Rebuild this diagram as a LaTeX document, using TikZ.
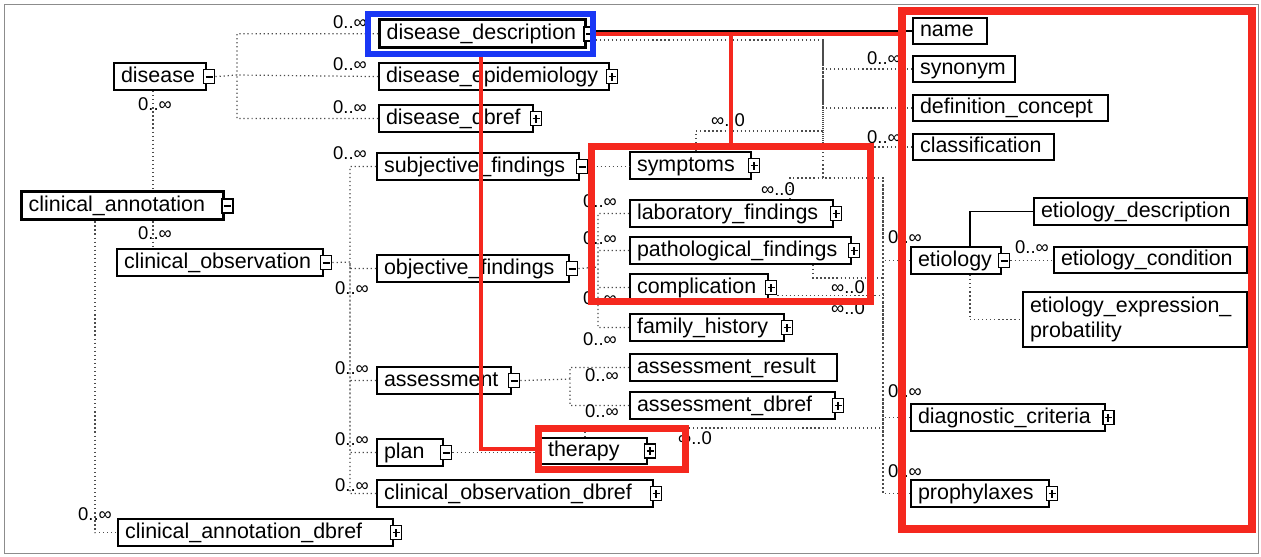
\documentclass[tikz,border=0pt]{standalone}
\usepackage{fontspec}
\setmainfont{Liberation Sans}
\newdimen\pxu \pxu=0.02cm
\definecolor{hlred}{RGB}{245,40,30}
\definecolor{hlblue}{RGB}{25,55,245}
\newcommand{\elemfont}{\fontsize{12.2}{14.2}\selectfont}
\newcommand{\multfont}{\fontsize{10.5}{12}\selectfont}
\tikzset{
  elembase/.style={draw, line width=1.2pt, fill=white, anchor=north west,
                   inner xsep=7\pxu, inner ysep=0pt, align=left, font=\elemfont},
  elem/.style={elembase, minimum height=27\pxu, text height=9pt, text depth=2.6pt},
  rootelem/.style={elem, line width=1.9pt},
  icon/.style={draw, fill=white, line width=1pt, minimum width=11\pxu,
               minimum height=14\pxu, inner sep=0pt},
  minusicon/.style={icon, path picture={\draw[line width=1.1pt]
      ([xshift=2\pxu]path picture bounding box.west) -- ([xshift=-2\pxu]path picture bounding box.east);}},
  plusicon/.style={icon, path picture={\draw[line width=1pt]
      ([xshift=2\pxu]path picture bounding box.west) -- ([xshift=-2\pxu]path picture bounding box.east)
      ([yshift=3\pxu]path picture bounding box.south) -- ([yshift=-3\pxu]path picture bounding box.north);}},
  mult/.style={font=\multfont, inner sep=0pt},
  conn/.style={dash pattern=on .7pt off 1.6pt, line width=.7pt, black!70},
  tree/.style={line width=.7pt, black},
  hlline/.style={draw=hlred, line width=4\pxu},
  hlbox/.style={draw=hlred, line width=7\pxu, anchor=north west, inner sep=0pt},
}
\begin{document}
\begin{tikzpicture}[x=0.02cm, y=-0.02cm]
      \useasboundingbox (0, 0) rectangle (1261, 556);
      \draw[black!45, line width=1\pxu] (4, 4) rectangle (1258, 553);

      \node[elem, text width=78\pxu] (disease) at (113, 62) {disease};
      \node[rootelem, text width=188\pxu, minimum height=28\pxu] (cann) at (20, 190) {clinical\_annotation};
      \node[elem, text width=192\pxu] (cobs) at (116, 248) {clinical\_observation};
      \node[elem, text width=261\pxu] (cadb) at (117, 518) {clinical\_annotation\_dbref};

      \node[rootelem, text width=192\pxu, minimum height=28\pxu] (ddesc) at (378, 18) {disease\_description};
      \node[elem, text width=216\pxu] (depi) at (378, 62) {disease\_epidemiology};
      \node[elem, text width=140\pxu] (ddbref) at (378, 104) {disease\_dbref};
      \node[elem, text width=188\pxu] (subj) at (376, 152) {subjective\_findings};
      \node[elem, text width=178\pxu] (obj) at (376, 254) {objective\_findings};
      \node[elem, text width=120\pxu] (asmt) at (376, 366) {assessment};
      \node[elem, text width=52\pxu] (plan) at (376, 438) {plan};
      \node[elem, text width=262\pxu] (codb) at (376, 479) {clinical\_observation\_dbref};

      \node[elem, text width=107\pxu] (symp) at (629, 151) {symptoms};
      \node[elem, text width=189\pxu] (lab) at (629, 199) {laboratory\_findings};
      \node[elem, text width=207\pxu] (path) at (629, 236) {pathological\_findings};
      \node[elem, text width=124\pxu] (comp) at (629, 273) {complication};
      \node[elem, text width=140\pxu] (fam) at (629, 313) {family\_history};
      \node[elem, text width=193\pxu] (ares) at (629, 353) {assessment\_result};
      \node[elem, text width=191\pxu] (adb) at (629, 391) {assessment\_dbref};
      \node[elem, text width=92\pxu, minimum height=26\pxu] (ther) at (540, 437) {therapy};

      \node[elem, text width=60\pxu, minimum height=26\pxu] (name) at (912, 17) {name};
      \node[elem, text width=88\pxu, minimum height=26\pxu] (syn) at (912, 55) {synonym};
      \node[elem, text width=181\pxu, minimum height=26\pxu] (defc) at (912, 94) {definition\_concept};
      \node[elem, text width=127\pxu, minimum height=26\pxu] (clas) at (912, 133) {classification};
      \node[elem, text width=199\pxu] (etdesc) at (1033, 197) {etiology\_description};
      \node[elem, text width=76\pxu] (etio) at (910, 246) {etiology};
      \node[elem, text width=179\pxu, minimum height=26\pxu] (etcond) at (1053, 246) {etiology\_condition};
      \node[elembase, text width=210\pxu, minimum height=55\pxu] (etexp) at (1022, 291) {etiology\_expression\_\\probatility};
      \node[elem, text width=180\pxu] (diag) at (910, 403) {diagnostic\_criteria};
      \node[elem, text width=124\pxu] (proph) at (910, 479) {prophylaxes};

      \node[minusicon] (disease-i) at ([xshift=2\pxu]disease.east) {};
      \node[minusicon] (cann-i) at ([xshift=2\pxu]cann.east) {};
      \node[minusicon] (cobs-i) at ([xshift=2\pxu]cobs.east) {};
      \node[plusicon] (cadb-i) at ([xshift=2\pxu]cadb.east) {};
      \node[minusicon] (ddesc-i) at ([xshift=2\pxu]ddesc.east) {};
      \node[plusicon] (depi-i) at ([xshift=2\pxu]depi.east) {};
      \node[plusicon] (ddbref-i) at ([xshift=2\pxu]ddbref.east) {};
      \node[minusicon] (subj-i) at ([xshift=2\pxu]subj.east) {};
      \node[minusicon] (obj-i) at ([xshift=2\pxu]obj.east) {};
      \node[minusicon] (asmt-i) at ([xshift=2\pxu]asmt.east) {};
      \node[minusicon] (plan-i) at ([xshift=2\pxu]plan.east) {};
      \node[plusicon] (codb-i) at ([xshift=2\pxu]codb.east) {};
      \node[plusicon] (symp-i) at ([xshift=2\pxu]symp.east) {};
      \node[plusicon] (lab-i) at ([xshift=2\pxu]lab.east) {};
      \node[plusicon] (path-i) at ([xshift=2\pxu]path.east) {};
      \node[plusicon] (comp-i) at ([xshift=2\pxu]comp.east) {};
      \node[plusicon] (fam-i) at ([xshift=2\pxu]fam.east) {};
      \node[plusicon] (adb-i) at ([xshift=2\pxu]adb.east) {};
      \node[plusicon] (ther-i) at ([xshift=2\pxu]ther.east) {};
      \node[minusicon] (etio-i) at ([xshift=2\pxu]etio.east) {};
      \node[plusicon] (diag-i) at ([xshift=2\pxu]diag.east) {};
      \node[plusicon] (proph-i) at ([xshift=2\pxu]proph.east) {};

      \coordinate (dspine) at (237, 75);
      \coordinate (aspine) at (153, 0);
      \coordinate (bspine) at (95, 0);
      \coordinate (ospine) at (350, 262);
      \coordinate (fspine) at (598, 267);
      \coordinate (rspine) at (570, 379);
      \coordinate (ds1) at (823, 40);
      \coordinate (ds2) at (883, 178);
      \coordinate (symtop) at (696, 131);
      \coordinate (labtop) at (790, 178);
      \coordinate (pathbot) at (813, 278);
      \coordinate (thertop) at (585, 428);
      \coordinate (etrunk) at (970, 0);

      \draw[conn] (disease-i.east) -- (dspine)
                  (ddesc.west) -| (dspine)
                  (depi.west) -- (dspine)
                  (ddbref.west) -| (dspine);
      \draw[conn] (disease.south -| aspine) -- (cann.north -| aspine)
                  (cann.south -| aspine) -- (cobs.north -| aspine)
                  (cann.south -| bspine) |- (cadb.west);
      \draw[conn] (cobs-i.east) -- (ospine)
                  (subj.west) -| (ospine)
                  (obj.west) -| (ospine)
                  (asmt.west) -| (ospine)
                  (plan.west) -| (ospine)
                  (codb.west) -| (ospine);
      \draw[conn] (subj-i.east) -- (subj-i.east -| symp.west);
      \draw[conn] (obj-i.east) -- (fspine)
                  (lab.west) -| (fspine)
                  (path.west) -| (fspine)
                  (comp.west) -| (fspine)
                  (fam.west) -| (fspine);
      \draw[conn] (asmt-i.east) -- (rspine)
                  (ares.west) -| (rspine)
                  (adb.west) -| (rspine);
      \draw[conn] (plan-i.east) -- (plan-i.east -| ther.west);
      \draw[conn] (ddesc-i.east |- ds1) -- (ds1) |- (ds2) -- (ds2 |- proph.west);
      \draw[conn] (syn.west) -| (ds1)
                  (defc.west) -| (ds1)
                  (clas.west) -| (ds1)
                  (etio.west) -| (ds2)
                  (diag.west) -| (ds2)
                  (proph.west) -| (ds2);
      \draw[conn] (symp.north -| symtop) |- (symtop -| ds1)
                  (lab.north -| labtop) -- (labtop) -- (ds2)
                  (path.south -| pathbot) -- (pathbot) -- (pathbot -| ds2)
                  (comp-i.south east) -- (comp-i.south east -| ds2)
                  (ther.north -| thertop) -- (thertop) -- (thertop -| ds2);
      \draw[tree] (ddesc-i.east |- name.west) -- (name.west);
      \draw[tree] (etio.north -| etrunk) |- (etdesc.west);
      \draw[conn] (etio-i.east) -- (etio-i.east -| etcond.west)
                  (etio.south -| etrunk) |- (etexp.west);

      \node[mult] (m-ddesc) at (350, 22) {0..∞};
      \node[mult] (m-depi) at (350, 64) {0..∞};
      \node[mult] (m-ddbref) at (350, 107) {0..∞};
      \node[mult] (m-disease) at (155, 104) {0..∞};
      \node[mult] (m-subj) at (350, 153) {0..∞};
      \node[mult] (m-cobs) at (155, 233) {0..∞};
      \node[mult] (m-obj) at (352, 288) {0..∞};
      \node[mult] (m-asmt) at (352, 368) {0..∞};
      \node[mult] (m-plan) at (352, 439) {0..∞};
      \node[mult] (m-codb) at (352, 485) {0..∞};
      \node[mult] (m-cadb) at (95, 514) {0..∞};
      \node[mult] (m-lab) at (600, 201) {0..∞};
      \node[mult] (m-path) at (600, 238) {0..∞};
      \node[mult] (m-comp) at (600, 298) {0..∞};
      \node[mult] (m-fam) at (600, 339) {0..∞};
      \node[mult] (m-ares) at (602, 375) {0..∞};
      \node[mult] (m-adb) at (602, 411) {0..∞};
      \node[mult] (m-syn) at (884, 58) {0..∞};
      \node[mult] (m-clas) at (884, 137) {0..∞};
      \node[mult] (m-etio) at (905, 237) {0..∞};
      \node[mult] (m-etcond) at (1032, 247) {0..∞};
      \node[mult] (m-diag) at (905, 391) {0..∞};
      \node[mult] (m-proph) at (905, 471) {0..∞};
      \node[mult] (r-symp) at (728, 120) {∞..0};
      \node[mult] (r-lab) at (778, 189) {∞..0};
      \node[mult] (r-path) at (848, 287) {∞..0};
      \node[mult] (r-comp) at (848, 308) {∞..0};
      \node[mult] (r-ther) at (695, 438) {∞..0};

      \node[hlbox, draw=hlblue, line width=6\pxu, minimum width=225\pxu, minimum height=40\pxu] (hl-dd) at (365, 11) {};
      \node[hlbox, minimum width=279\pxu, minimum height=155\pxu] (hl-find) at (588, 143) {};
      \node[hlbox, minimum width=147\pxu, minimum height=41\pxu] (hl-ther) at (535, 425) {};
      \node[hlbox, line width=8\pxu, minimum width=350\pxu, minimum height=518\pxu] (hl-right) at (898, 7) {};
      \draw[hlline] (hl-dd.east) -- (hl-dd.east -| hl-right.west);
      \draw[hlline] (hl-find.north) -- (hl-find.north |- hl-dd.east);
      \draw[hlline] (hl-dd.south) |- (hl-ther.west);
\end{tikzpicture}
\end{document}
